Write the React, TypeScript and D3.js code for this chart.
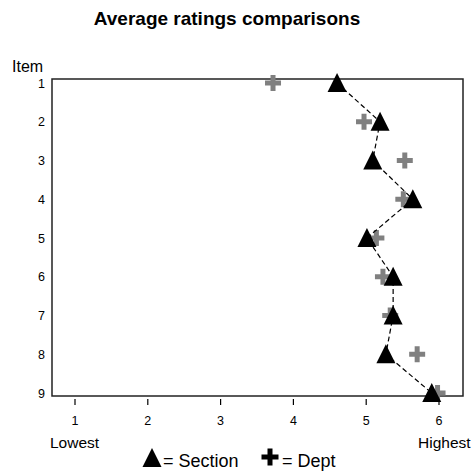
import * as d3 from "d3";

const items = [1, 2, 3, 4, 5, 6, 7, 8, 9];
const section = [4.6, 5.19, 5.09, 5.64, 5.01, 5.37, 5.37, 5.27, 5.9];
const dept = [3.72, 4.97, 5.53, 5.51, 5.14, 5.23, 5.33, 5.7, 5.98];
const xTicks = [1, 2, 3, 4, 5, 6];

const width = 471;
const height = 472;
const box = { left: 52, top: 79, right: 463, bottom: 396 };
const font = "Arial, 'Liberation Sans', sans-serif";

function triangle(cx: number, cy: number, s = 9.5) {
  return `M${cx},${cy - s - 0.5}L${cx + s},${cy + s - 0.5}L${cx - s},${cy + s - 0.5}Z`;
}

function Cross({ cx, cy, size = 16, t = 5, fill }: { cx: number; cy: number; size?: number; t?: number; fill: string }) {
  return (
    <g fill={fill}>
      <rect x={cx - size / 2} y={cy - t / 2} width={size} height={t} />
      <rect x={cx - t / 2} y={cy - size / 2} width={t} height={size} />
    </g>
  );
}

export default function App() {
  const x = d3.scaleLinear().domain([1, 6]).range([75, 439]);
  const y = d3.scaleLinear().domain([1, 9]).range([83, 393]);

  const line = d3
    .line<number>()
    .x((d) => x(d))
    .y((_, i) => y(items[i]));

  return (
    <svg
      width={width}
      height={height}
      style={{ position: "absolute", left: 0, top: 0, background: "white" }}
      fontFamily={font}
    >
      <text x={227} y={25} textAnchor="middle" fontSize={19} fontWeight="bold">
        Average ratings comparisons
      </text>
      <text x={12} y={72} fontSize={16}>
        Item
      </text>

      <rect
        x={box.left}
        y={box.top}
        width={box.right - box.left}
        height={box.bottom - box.top}
        fill="none"
        stroke="#222"
        strokeWidth={1.5}
      />

      {items.map((d) => (
        <text key={d} x={45} y={y(d) + 4.5} textAnchor="end" fontSize={12.5}>
          {d}
        </text>
      ))}

      {xTicks.map((d) => (
        <g key={d}>
          <line x1={x(d)} x2={x(d)} y1={399} y2={405} stroke="#000" strokeWidth={1.2} />
          <text x={x(d)} y={425} textAnchor="middle" fontSize={12.5}>
            {d}
          </text>
        </g>
      ))}
      <text x={50} y={448} fontSize={15.5}>
        Lowest
      </text>
      <text x={418} y={448} fontSize={15.5}>
        Highest
      </text>

      {dept.map((d, i) => (
        <Cross key={i} cx={x(d)} cy={y(items[i])} fill="#808080" />
      ))}

      <path d={line(section) ?? ""} fill="none" stroke="#000" strokeWidth={1.2} strokeDasharray="5,3" />

      {section.map((d, i) => (
        <path key={i} d={triangle(x(d), y(items[i]))} fill="#000" />
      ))}

      <path d={triangle(152, 458, 9.5)} fill="#000" />
      <text x={163} y={467} fontSize={18}>
        = Section
      </text>
      <Cross cx={270} cy={457} size={17} t={5} fill="#000" />
      <text x={282} y={467} fontSize={18}>
        = Dept
      </text>
    </svg>
  );
}
